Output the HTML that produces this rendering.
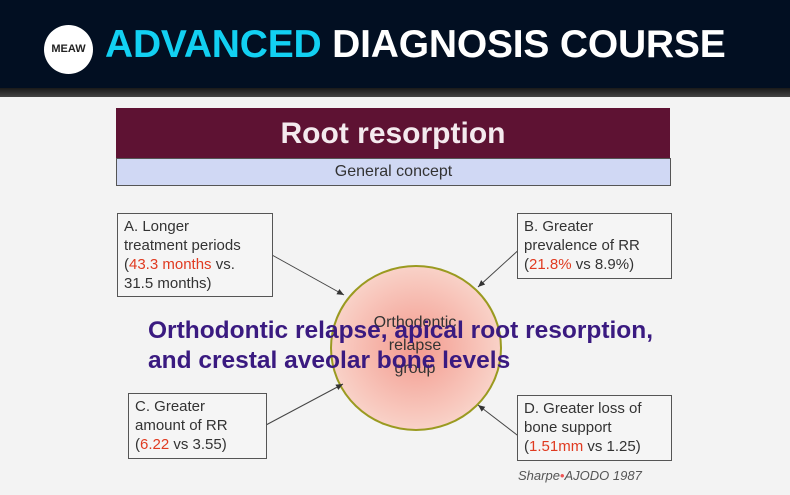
<!DOCTYPE html><html><head><style>
body{margin:0;width:790px;height:495px;overflow:hidden;background:#f3f3f3;font-family:"Liberation Sans",sans-serif;position:relative}
.hd{position:absolute;left:0;top:0;width:790px;height:89px;background:#020f22}
.strip{position:absolute;left:0;top:88px;width:790px;height:9px;background:linear-gradient(#1a1a1a,#444)}
.logo{position:absolute;left:44px;top:25px;width:49px;height:49px;border-radius:50%;background:#fff;font:bold 11px "Liberation Sans";color:#222;text-align:center;line-height:49px}
.t{position:absolute;left:105px;top:23px;font:bold 39px "Liberation Sans",sans-serif;color:#fff;letter-spacing:-0.2px;white-space:nowrap}
.t span{color:#12d0f2}
.box{position:absolute;border:1px solid #555;background:#f5f5f5;font-size:15px;line-height:19px;color:#333;padding:3px 6px;box-sizing:border-box}
.r{color:#e03a20}
</style></head><body>
<div class="hd"></div><div class="strip"></div>
<div class="logo">MEAW</div>
<div class="t"><span>ADVANCED</span> DIAGNOSIS COURSE</div>
<div style="position:absolute;left:116px;top:108px;width:554px;height:50px;background:#5e1233;color:#f4eaee;font:bold 30px 'Liberation Sans';text-align:center;line-height:52px">Root resorption</div>
<div style="position:absolute;left:116px;top:158px;width:553px;height:26px;background:#d0d8f4;border:1px solid #555;color:#333;font-size:16px;text-align:center;line-height:26px">General concept</div>
<svg style="position:absolute;left:0;top:0" width="790" height="495">
<defs><radialGradient id="g"><stop offset="0" stop-color="#f39a8e"/><stop offset="1" stop-color="#f9d2c8"/></radialGradient>
<marker id="a" markerWidth="8" markerHeight="8" refX="7" refY="4" orient="auto"><path d="M0,1L7,4L0,7z" fill="#333"/></marker></defs>
<ellipse cx="416" cy="348" rx="85" ry="82" fill="url(#g)" stroke="#9a9a20" stroke-width="2"/>
<g stroke="#444" stroke-width="1" marker-end="url(#a)">
<line x1="272" y1="255" x2="344" y2="295"/><line x1="523" y1="246" x2="478" y2="287"/>
<line x1="266" y1="425" x2="343" y2="384"/><line x1="521" y1="438" x2="478" y2="405"/></g>
</svg>
<div style="position:absolute;left:350px;top:311px;width:130px;text-align:center;font-size:16px;line-height:23px;color:#333">Orthodontic<br>relapse<br>group</div>
<div style="position:absolute;left:148px;top:316px;font:bold 24.5px 'Liberation Sans';color:#3a1a80;line-height:30px;white-space:nowrap">Orthodontic relapse, apical root resorption,<br>and crestal aveolar bone levels</div>
<div class="box" style="left:117px;top:213px;width:156px;height:84px">A. Longer<br>treatment periods<br>(<span class="r">43.3 months</span> vs.<br>31.5 months)</div>
<div class="box" style="left:517px;top:213px;width:155px;height:66px">B. Greater<br>prevalence of RR<br>(<span class="r">21.8%</span> vs 8.9%)</div>
<div class="box" style="left:128px;top:393px;width:139px;height:66px">C. Greater<br>amount of RR<br>(<span class="r">6.22</span> vs 3.55)</div>
<div class="box" style="left:517px;top:395px;width:155px;height:66px">D. Greater loss of<br>bone support<br>(<span class="r">1.51mm</span> vs 1.25)</div>
<div style="position:absolute;left:518px;top:468px;font:italic 13px 'Liberation Sans';color:#555">Sharpe<span style="color:#e55">•</span>AJODO 1987</div>
</body></html>
